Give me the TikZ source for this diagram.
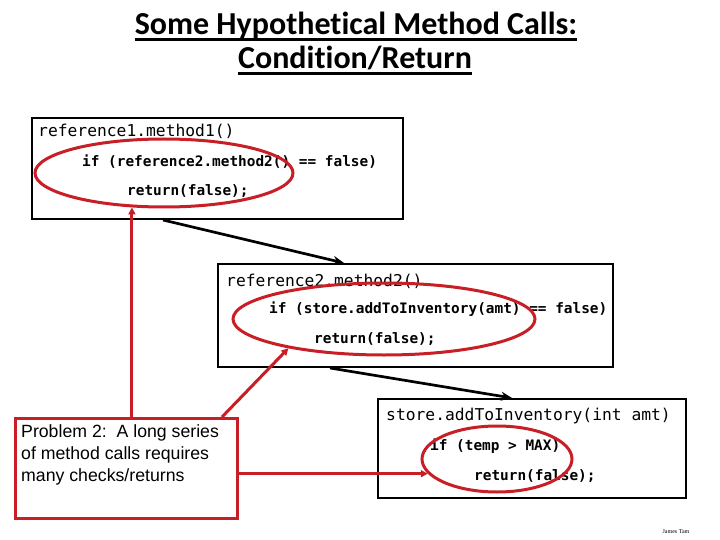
\documentclass[tikz,border=0pt]{standalone}
\usepackage{fontspec}
\setmainfont{Liberation Serif}
\newfontfamily\titlefont[Ligatures=NoCommon]{Carlito}
\newfontfamily\codefont{DejaVu Sans Mono}
\newfontfamily\arialfont{Liberation Sans}
\usetikzlibrary{arrows.meta,shapes.geometric}
\definecolor{myred}{RGB}{200,30,38}
\tikzset{
  codebox/.style={draw=black, line width=2pt, anchor=north west, inner sep=0pt},
  big/.style={anchor=base west, inner sep=0pt, font=\codefont\fontsize{16.3}{18}\selectfont},
  small/.style={anchor=base west, inner sep=0pt, font=\codefont\bfseries\fontsize{14.4}{16}\selectfont},
  hilite/.style={draw=myred, line width=3pt, ellipse, inner sep=0pt},
  flow/.style={draw=black, line width=2.7pt, -{Stealth[length=11pt,width=9pt]}},
  redarr/.style={draw=myred, line width=3pt, -{Triangle[length=7pt,width=7pt]}},
  titletext/.style={anchor=base, inner sep=0pt, font=\titlefont\bfseries\fontsize{32}{36}\selectfont},
  probtext/.style={anchor=base west, inner sep=0pt, font=\arialfont\fontsize{17.7}{22}\selectfont},
}
\begin{document}
\begin{tikzpicture}[x=1pt,y=-1pt]
\useasboundingbox (0,0) rectangle (720,540);
% title
\node[titletext] (t1) at (356,35) {Some Hypothetical Method Calls:};
\node[titletext] (t2) at (355,69) {Condition/Return};
\draw[line width=2.6pt] ([yshift=-4.5pt]t1.base west) -- ([yshift=-4.5pt]t1.base east);
\draw[line width=2.6pt] ([yshift=-4.5pt]t2.base west) -- ([yshift=-4.5pt]t2.base east);
% boxes
\node[codebox, minimum width=371pt, minimum height=101pt] (b1) at (31,117) {};
\node[big] (b1a) at (38,137) {reference1.method1()};
\node[small] (b1b) at (82,167) {if (reference2.method2() == false)};
\node[small] (b1c) at (127,196) {return(false);};

\node[codebox, minimum width=395pt, minimum height=103pt] (b2) at (217,263) {};
\node[big] (b2a) at (226,286) {reference2.method2()};
\node[small] (b2b) at (269,313) {if (store.addToInventory(amt) == false)};
\node[small] (b2c) at (314,343) {return(false);};

\node[codebox, minimum width=308pt, minimum height=99pt] (b3) at (377,398) {};
\node[big] (b3a) at (386,420) {store.addToInventory(int amt)};
\node[small] (b3b) at (430,450) {if (temp > MAX)};
\node[small] (b3c) at (474,480) {return(false);};

% flow arrows
\draw[flow] ([xshift=132pt]b1.south west) -- ([xshift=127pt]b2.north west);
\draw[flow] ([xshift=113pt]b2.south west) -- ([xshift=135pt]b3.north west);

% ellipses
\node[hilite, minimum width=258pt, minimum height=68pt] (e1) at (164,173) {};
\node[hilite, minimum width=302pt, minimum height=72pt] (e2) at (384,319) {};
\node[hilite, minimum width=150pt, minimum height=66pt] (e3) at (497,459) {};

% problem box
\node[draw=myred, line width=3pt, anchor=north west, minimum width=222pt, minimum height=100pt, inner sep=0pt] (p) at (14,417) {};
\node[probtext] (pt1) at (21,437) {Problem 2:\ \ A long series};
\node[probtext] (pt2) at (21,459) {of method calls requires};
\node[probtext] (pt3) at (21,481) {many checks/returns};

% red arrows
\draw[redarr] (e1.227 |- p.north) -- (e1.227);
\draw[redarr] ([xshift=-17pt]p.north east) -- (e2.197);
\draw[redarr] (e3.192 -| p.east) -- (e3.192);

% signature
\node[anchor=base, inner sep=0pt, font=\fontsize{6}{7}\selectfont] (sig) at (676,533) {James Tam};
\end{tikzpicture}
\end{document}
